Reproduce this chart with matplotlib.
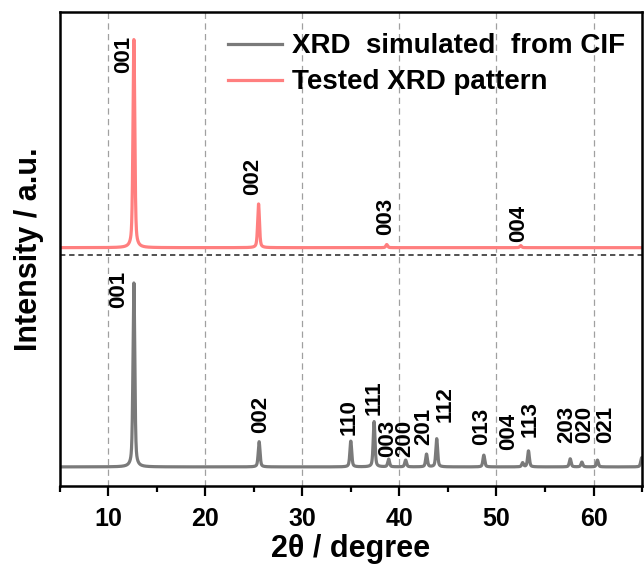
import matplotlib
matplotlib.use("Agg")
import matplotlib.pyplot as plt
import numpy as np

plt.rcParams['font.family'] = ['Liberation Sans', 'DejaVu Sans']
plt.rcParams['font.weight'] = 'bold'

# simulated pattern (from CIF): peak positions (2theta), relative heights, hkl
sim_pos = [12.66, 25.56, 35.0, 37.4, 38.9, 40.65, 42.8, 43.85, 48.7, 52.7, 53.3, 57.6, 58.8, 60.4, 64.95]
sim_int = [1.0, 0.137, 0.14, 0.246, 0.042, 0.037, 0.069, 0.153, 0.064, 0.022, 0.087, 0.044, 0.026, 0.037, 0.05]
sim_hkl = ['001', '002', '110', '111', '003', '200', '201', '112', '013', '004', '113', '203', '020', '021']
# label anchors (2theta, height in axes units)
sim_lab_x = [11.12, 25.75, 34.8, 37.37, 38.75, 40.55, 42.5, 44.76, 48.5, 51.3, 53.46, 57.25, 59.1, 61.2]
sim_lab_y = [0.376, 0.112, 0.108, 0.150, 0.061, 0.061, 0.087, 0.135, 0.087, 0.076, 0.103, 0.091, 0.091, 0.091]

# measured pattern
exp_pos = [12.66, 25.5, 38.7, 52.5]
exp_int = [1.0, 0.21, 0.015, 0.01]
exp_hkl = ['001', '002', '003', '004']
exp_lab_x = [11.6, 24.93, 38.57, 52.31]
exp_lab_y = [0.871, 0.614, 0.530, 0.515]

sim_base, sim_scale = 0.0407, 0.388
exp_base, exp_scale = 0.503, 0.439
split_y = 0.487


def profile(x, pos, inten, fwhm=0.22, eta=0.5):
    y = np.zeros_like(x)
    g = fwhm / 2
    for p, h in zip(pos, inten):
        lor = 1 / (1 + ((x - p) / g) ** 2)
        gau = np.exp(-np.log(2) * ((x - p) / g) ** 2)
        y += h * (eta * lor + (1 - eta) * gau)
    return y


x = np.linspace(5, 65, 8001)
y_sim = sim_base + sim_scale * profile(x, sim_pos, sim_int)
y_exp = exp_base + exp_scale * profile(x, exp_pos, exp_int)

fig = plt.figure(figsize=(6.44, 5.70), dpi=100)
ax = fig.add_axes([0.0924, 0.147, 0.9046, 0.832])

for gx in range(10, 61, 10):
    ax.axvline(gx, color='#a0a0a0', lw=0.9, ls=(0, (5, 3.5)), zorder=0)

ax.plot(x, y_sim, color='#7a7a7a', lw=2.3, label='XRD  simulated  from CIF')
ax.plot(x, y_exp, color='#ff7f7f', lw=2.3, label='Tested XRD pattern')
ax.axhline(split_y, color='#222222', lw=1.1, ls=(0, (3.5, 2.5)))

for lx, ly, t in zip(sim_lab_x, sim_lab_y, sim_hkl):
    ax.text(lx, ly, t, rotation=90, ha='center', va='bottom', fontsize=16, fontweight='bold')
for lx, ly, t in zip(exp_lab_x, exp_lab_y, exp_hkl):
    ax.text(lx, ly, t, rotation=90, ha='center', va='bottom', fontsize=16, fontweight='bold')

ax.set_xlim(5, 65)
ax.set_ylim(0, 1)
ax.set_yticks([])
ax.set_xticks(range(10, 61, 10))
ax.set_xticks(range(5, 66, 10), minor=True)
ax.tick_params(axis='x', which='major', direction='out', length=7, width=1.6, labelsize=18, pad=8)
ax.tick_params(axis='x', which='minor', direction='out', length=4.5, width=1.6)
for s in ax.spines.values():
    s.set_linewidth(1.8)

ax.set_xlabel('2θ / degree', fontsize=22, fontweight='bold', labelpad=2)
ax.set_ylabel('Intensity / a.u.', fontsize=22, fontweight='bold', labelpad=11)

ax.legend(loc='upper left', bbox_to_anchor=(0.289, 0.955), frameon=False, fontsize=20,
          handlelength=1.95, handletextpad=0.35, labelspacing=0.36, borderpad=0, borderaxespad=0)

fig.savefig('out.png', dpi=100)
